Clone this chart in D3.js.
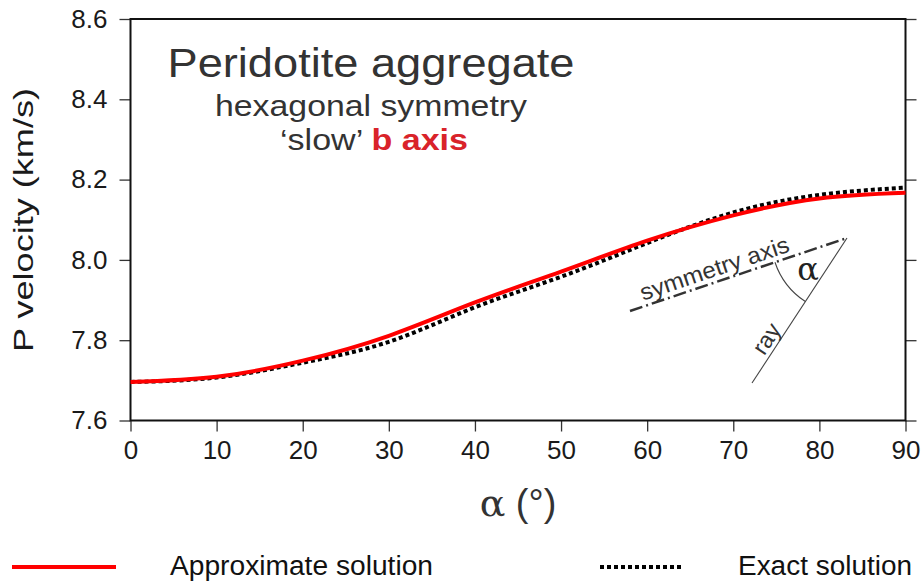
<!DOCTYPE html>
<html>
<head>
<meta charset="utf-8">
<script src="https://cdn.jsdelivr.net/npm/d3@7/dist/d3.min.js"></script>
<style>
  body { margin: 0; background: #fff; }
  svg { font-family: "Liberation Sans", Arial, sans-serif; }
</style>
</head>
<body>
<div class="chart"></div>
<script>
// angle between ray and symmetry axis (degrees)
const angles = [0, 10, 20, 30, 40, 50, 60, 70, 80, 90];
// P velocity, km/s
const approxVp = [7.696, 7.709, 7.749, 7.811, 7.894, 7.971, 8.048, 8.111, 8.153, 8.167];
const exactVp  = [7.696, 7.707, 7.744, 7.796, 7.882, 7.958, 8.042, 8.118, 8.162, 8.180];

const xTicks = [0, 10, 20, 30, 40, 50, 60, 70, 80, 90];
const yTicks = [7.6, 7.8, 8.0, 8.2, 8.4, 8.6];

const width = 923, height = 582;
const pLeft = 130.5, pRight = 905.5, pTop = 19, pBottom = 420.5;

const svg = d3.select('.chart')
  .append('svg')
  .attr('width', width)
  .attr('height', height);

const x = d3.scaleLinear().domain([0, 90]).range([pLeft, pRight]);
const y = d3.scaleLinear().domain([7.6, 8.6]).range([pBottom, pTop]);

// axes
const tickFont = g => {
  g.select('.domain').remove();
  g.selectAll('line').attr('stroke', '#333').attr('stroke-width', 1.3);
  g.selectAll('text').attr('fill', '#1a1a1a').style('font-size', '26px')
    .style('font-family', '"Liberation Sans", Arial, sans-serif');
};

svg.append('g')
  .attr('transform', `translate(0,${pBottom})`)
  .call(d3.axisBottom(x).tickValues(xTicks).tickSize(11).tickPadding(9).tickFormat(d3.format('d')))
  .call(tickFont);

svg.append('g')
  .attr('transform', `translate(${pLeft},0)`)
  .call(d3.axisLeft(y).tickValues(yTicks).tickSize(11).tickPadding(12).tickFormat(d3.format('.1f')))
  .call(tickFont);

svg.append('g')
  .attr('transform', `translate(${pRight},0)`)
  .call(d3.axisRight(y).tickValues(yTicks).tickSize(11).tickFormat(''))
  .call(tickFont);

// frame
svg.append('rect')
  .attr('x', pLeft).attr('y', pTop)
  .attr('width', pRight - pLeft).attr('height', pBottom - pTop)
  .attr('fill', 'none').attr('stroke', '#111').attr('stroke-width', 2);

// curves
const line = vals => d3.line()
  .x((d, i) => x(angles[i]))
  .y(d => y(d))
  .curve(d3.curveNatural)(vals);

svg.append('path')
  .attr('d', line(exactVp))
  .attr('fill', 'none').attr('stroke', '#000')
  .attr('stroke-width', 4).attr('stroke-dasharray', '4,3');

svg.append('path')
  .attr('d', line(approxVp))
  .attr('fill', 'none').attr('stroke', '#f00')
  .attr('stroke-width', 4);

// title block
const cx = 371;
svg.append('text').attr('x', cx).attr('y', 77)
  .attr('text-anchor', 'middle').attr('fill', '#333')
  .attr('textLength', 407).attr('lengthAdjust', 'spacingAndGlyphs')
  .style('font-size', '41px').text('Peridotite aggregate');
svg.append('text').attr('x', cx).attr('y', 116)
  .attr('text-anchor', 'middle').attr('fill', '#333')
  .attr('textLength', 312).attr('lengthAdjust', 'spacingAndGlyphs')
  .style('font-size', '30px').text('hexagonal symmetry');
const sub = svg.append('text').attr('x', 374).attr('y', 150)
  .attr('text-anchor', 'middle').attr('fill', '#333')
  .attr('textLength', 188).attr('lengthAdjust', 'spacingAndGlyphs')
  .style('font-size', '30px');
sub.append('tspan').text('\u2018slow\u2019 ');
sub.append('tspan').attr('fill', '#d9232a').attr('font-weight', 'bold').text('b axis');

// inset sketch: symmetry axis and ray
const vtx = [847, 238];
const axEnd = [630, 311];
const rayEnd = [752, 383];

svg.append('line')
  .attr('x1', axEnd[0]).attr('y1', axEnd[1]).attr('x2', vtx[0]).attr('y2', vtx[1])
  .attr('stroke', '#333').attr('stroke-width', 2.5)
  .attr('stroke-dasharray', '13,4,2,4');

svg.append('line')
  .attr('x1', rayEnd[0]).attr('y1', rayEnd[1]).attr('x2', vtx[0]).attr('y2', vtx[1])
  .attr('stroke', '#444').attr('stroke-width', 1.1);

const a1 = Math.atan2(axEnd[1] - vtx[1], axEnd[0] - vtx[0]);
const a2 = Math.atan2(rayEnd[1] - vtx[1], rayEnd[0] - vtx[0]);
const r = 76;
svg.append('path')
  .attr('d', `M${vtx[0] + r * Math.cos(a1)},${vtx[1] + r * Math.sin(a1)} A${r},${r} 0 0 0 ${vtx[0] + r * Math.cos(a2)},${vtx[1] + r * Math.sin(a2)}`)
  .attr('fill', 'none').attr('stroke', '#444').attr('stroke-width', 1.1);

svg.append('text').attr('x', 808).attr('y', 280)
  .attr('text-anchor', 'middle').attr('fill', '#222')
  .style('font-size', '32px').style('font-family', '"DejaVu Serif", serif').text('\u03b1');

const axAng = Math.atan2(vtx[1] - axEnd[1], vtx[0] - axEnd[0]) * 180 / Math.PI;
svg.append('text')
  .attr('transform', `translate(717,276) rotate(${axAng})`)
  .attr('text-anchor', 'middle').attr('fill', '#333')
  .attr('textLength', 156).attr('lengthAdjust', 'spacingAndGlyphs')
  .style('font-size', '23px').text('symmetry axis');

const rayAng = Math.atan2(vtx[1] - rayEnd[1], vtx[0] - rayEnd[0]) * 180 / Math.PI;
svg.append('text')
  .attr('transform', `translate(773,343) rotate(${rayAng})`)
  .attr('text-anchor', 'middle').attr('fill', '#333')
  .style('font-size', '23px').text('ray');

// axis titles
svg.append('text')
  .attr('transform', `translate(33,220) rotate(-90)`)
  .attr('text-anchor', 'middle').attr('fill', '#1a1a1a')
  .attr('textLength', 264).attr('lengthAdjust', 'spacingAndGlyphs')
  .style('font-size', '28px').text('P velocity (km/s)');

const xl = svg.append('text').attr('x', (pLeft + pRight) / 2).attr('y', 516)
  .attr('text-anchor', 'middle').attr('fill', '#333')
  .style('font-size', '38px');
xl.append('tspan').style('font-family', '"DejaVu Serif", serif').text('\u03b1');
xl.append('tspan').text(' (\u00b0)');

// legend
svg.append('line').attr('x1', 12).attr('x2', 116).attr('y1', 567).attr('y2', 567)
  .attr('stroke', '#f00').attr('stroke-width', 4);
svg.append('text').attr('x', 170).attr('y', 575).attr('fill', '#111')
  .attr('textLength', 263).attr('lengthAdjust', 'spacingAndGlyphs')
  .style('font-size', '27px').text('Approximate solution');

svg.append('line').attr('x1', 600).attr('x2', 684).attr('y1', 567).attr('y2', 567)
  .attr('stroke', '#000').attr('stroke-width', 4).attr('stroke-dasharray', '4,3');
svg.append('text').attr('x', 738).attr('y', 575).attr('fill', '#111')
  .attr('textLength', 174).attr('lengthAdjust', 'spacingAndGlyphs')
  .style('font-size', '27px').text('Exact solution');
</script>
</body>
</html>
